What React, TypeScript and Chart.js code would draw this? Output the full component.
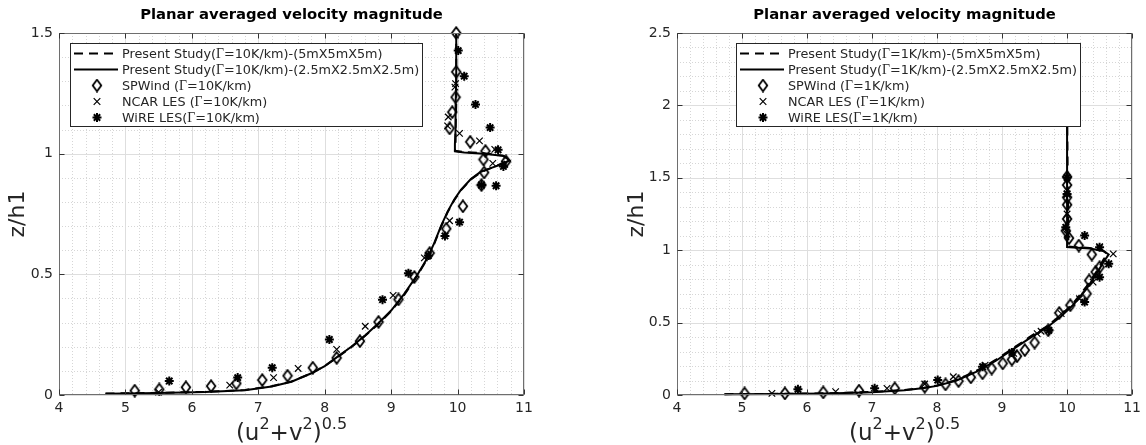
import React, { useEffect, useRef } from "react";
import { Chart, registerables } from "chart.js";

Chart.register(...registerables);

type P = [number, number];

// ---------- tick labels ----------
const xTickValues = [4, 5, 6, 7, 8, 9, 10, 11];
const xTickLabels = ["4", "5", "6", "7", "8", "9", "10", "11"];
const leftYTickValues = [0, 0.5, 1, 1.5];
const leftYTickLabels = ["0", "0.5", "1", "1.5"];
const rightYTickValues = [0, 0.5, 1, 1.5, 2, 2.5];
const rightYTickLabels = ["0", "0.5", "1", "1.5", "2", "2.5"];

const chartTitle = "Planar averaged velocity magnitude";
const yAxisTitle = "z/h1";

const leftLegendLabels = [
  "Present Study(Γ=10K/km)-(5mX5mX5m)",
  "Present Study(Γ=10K/km)-(2.5mX2.5mX2.5m)",
  "SPWind (Γ=10K/km)",
  "NCAR LES (Γ=10K/km)",
  "WiRE LES(Γ=10K/km)",
];
const rightLegendLabels = [
  "Present Study(Γ=1K/km)-(5mX5mX5m)",
  "Present Study(Γ=1K/km)-(2.5mX2.5mX2.5m)",
  "SPWind (Γ=1K/km)",
  "NCAR LES (Γ=1K/km)",
  "WiRE LES(Γ=1K/km)",
];

// ---------- left panel data (Γ=10K/km) ----------
const leftCoarse: P[] = [
  [4.7, 0.006], [5.5, 0.009], [6.2, 0.013], [6.8, 0.021], [7.2, 0.036], [7.5, 0.056],
  [7.8, 0.09], [8.0, 0.12], [8.2, 0.158], [8.4, 0.198], [8.6, 0.243], [8.8, 0.292],
  [9.0, 0.347], [9.2, 0.416], [9.4, 0.497], [9.55, 0.567], [9.65, 0.627], [9.75, 0.697],
  [9.85, 0.757], [9.95, 0.807], [10.05, 0.848], [10.2, 0.893], [10.35, 0.923], [10.5, 0.94],
  [10.65, 0.957], [10.76, 0.975], [10.68, 0.992], [10.4, 1.002], [10.1, 1.007], [9.96, 1.012],
  [9.97, 1.04], [9.97, 1.1], [9.98, 1.2], [9.98, 1.3], [9.98, 1.4], [9.98, 1.5],
];
const leftFine: P[] = [
  [4.7, 0.005], [5.5, 0.008], [6.2, 0.012], [6.8, 0.02], [7.2, 0.035], [7.5, 0.055],
  [7.8, 0.09], [8.0, 0.12], [8.2, 0.16], [8.4, 0.2], [8.6, 0.245], [8.8, 0.295],
  [9.0, 0.35], [9.2, 0.42], [9.4, 0.5], [9.55, 0.57], [9.65, 0.63], [9.75, 0.7],
  [9.85, 0.76], [9.95, 0.81], [10.05, 0.85], [10.2, 0.895], [10.35, 0.925], [10.5, 0.94],
  [10.65, 0.955], [10.78, 0.972], [10.7, 0.99], [10.4, 1.0], [10.1, 1.005], [9.95, 1.01],
  [9.96, 1.04], [9.97, 1.1], [9.97, 1.2], [9.98, 1.3], [9.98, 1.4], [9.98, 1.5],
];
const leftSPWind: P[] = [
  [5.14, 0.018], [5.51, 0.023], [5.91, 0.032], [6.29, 0.037], [6.67, 0.048], [7.06, 0.062],
  [7.44, 0.08], [7.82, 0.113], [8.18, 0.154], [8.53, 0.223], [8.81, 0.303], [9.11, 0.396],
  [9.35, 0.489], [9.58, 0.588], [9.83, 0.689], [10.08, 0.782], [10.36, 0.87], [10.4, 0.922],
  [10.39, 0.976], [10.73, 0.968], [10.42, 1.011], [10.19, 1.049], [9.88, 1.105], [9.92, 1.172],
  [9.97, 1.234], [9.98, 1.339], [9.98, 1.5],
];
const leftNCAR: P[] = [
  [5.5, 0.012], [6.57, 0.041], [7.23, 0.072], [7.6, 0.11], [8.18, 0.189], [8.61, 0.285],
  [9.03, 0.413], [9.5, 0.568], [9.88, 0.722], [10.36, 0.87], [10.53, 0.96], [10.71, 0.956],
  [10.56, 1.018], [10.33, 1.053], [10.03, 1.084], [9.86, 1.152], [9.85, 1.115], [9.96, 1.276],
  [9.97, 1.29],
];
const leftWiRE: P[] = [
  [5.66, 0.058], [6.69, 0.072], [7.21, 0.113], [8.07, 0.23], [8.87, 0.395], [9.26, 0.505],
  [9.56, 0.578], [9.81, 0.659], [10.03, 0.716], [10.36, 0.87], [10.58, 0.867], [10.69, 0.947],
  [10.61, 1.016], [10.49, 1.108], [10.27, 1.204], [10.1, 1.321], [10.01, 1.427],
];

// ---------- right panel data (Γ=1K/km) ----------
const rightCoarse: P[] = [
  [4.73, 0.006], [5.5, 0.008], [6.3, 0.012], [7.0, 0.021], [7.5, 0.035], [7.8, 0.05],
  [8.0, 0.066], [8.3, 0.104], [8.6, 0.165], [8.9, 0.242], [9.2, 0.332], [9.45, 0.408],
  [9.7, 0.478], [9.9, 0.55], [10.1, 0.637], [10.3, 0.75], [10.45, 0.85], [10.56, 0.935],
  [10.62, 0.975], [10.54, 1.0], [10.35, 1.016], [10.1, 1.022], [10.02, 1.026], [10.02, 1.1],
  [10.01, 1.5], [10.0, 2.0], [10.0, 2.3],
];
const rightFine: P[] = [
  [4.73, 0.005], [5.5, 0.007], [6.3, 0.011], [7.0, 0.019], [7.5, 0.033], [7.8, 0.048],
  [8.0, 0.063], [8.3, 0.1], [8.6, 0.16], [8.9, 0.235], [9.2, 0.325], [9.45, 0.4],
  [9.7, 0.47], [9.9, 0.54], [10.1, 0.625], [10.3, 0.735], [10.45, 0.835], [10.57, 0.925],
  [10.64, 0.97], [10.56, 0.995], [10.35, 1.012], [10.1, 1.018], [10.0, 1.022], [10.0, 1.1],
  [10.0, 1.5], [10.0, 2.0], [10.0, 2.3],
];
const rightSPWind: P[] = [
  [5.04, 0.011], [5.66, 0.011], [6.25, 0.018], [6.8, 0.03], [7.35, 0.046], [7.81, 0.057],
  [8.13, 0.073], [8.33, 0.096], [8.52, 0.122], [8.7, 0.15], [8.84, 0.183], [9.01, 0.218],
  [9.15, 0.245], [9.23, 0.268], [9.35, 0.31], [9.5, 0.362], [9.71, 0.447], [9.88, 0.567],
  [10.05, 0.62], [10.3, 0.7], [10.34, 0.791], [10.44, 0.85], [10.5, 0.883], [10.38, 0.97],
  [10.18, 1.032], [10.03, 1.083], [9.98, 1.135], [10.0, 1.216], [10.0, 1.314], [10.0, 1.365],
  [10.0, 1.45], [10.0, 1.507],
];
const rightNCAR: P[] = [
  [5.46, 0.011], [6.44, 0.023], [7.23, 0.046], [7.81, 0.076], [8.25, 0.126], [8.74, 0.206],
  [9.18, 0.287], [9.54, 0.424], [9.6, 0.44], [9.91, 0.562], [10.19, 0.665], [10.4, 0.78],
  [10.64, 0.906], [10.71, 0.975], [10.5, 1.025], [10.0, 1.11], [10.0, 1.25], [10.0, 1.39],
];
const rightWiRE: P[] = [
  [5.86, 0.039], [7.04, 0.046], [8.01, 0.103], [8.7, 0.195], [9.15, 0.294], [9.72, 0.447],
  [10.27, 0.642], [10.5, 0.814], [10.64, 0.906], [10.5, 1.02], [10.27, 1.101], [9.98, 1.158],
  [10.0, 1.388], [10.0, 1.502],
];

// ---------- drawing helpers ----------
const SANS = '"DejaVu Sans", sans-serif';
const SERIF = '"Liberation Serif", "DejaVu Serif", serif';
const TEXT = "#262626";

function makeDiamond(): HTMLCanvasElement {
  const c = document.createElement("canvas");
  c.width = 12;
  c.height = 14;
  const g = c.getContext("2d")!;
  g.strokeStyle = "#000";
  g.lineWidth = 1.8;
  g.beginPath();
  g.moveTo(6, 1.2);
  g.lineTo(10.3, 7);
  g.lineTo(6, 12.8);
  g.lineTo(1.7, 7);
  g.closePath();
  g.stroke();
  return c;
}

function drawGammaText(ctx: CanvasRenderingContext2D, s: string, x: number, y: number, size: number) {
  const parts = s.split("Γ");
  let cx = x;
  parts.forEach((p, i) => {
    ctx.font = `${size}px ${SANS}`;
    ctx.fillText(p, cx, y);
    cx += ctx.measureText(p).width;
    if (i < parts.length - 1) {
      ctx.font = `${size + 1}px ${SERIF}`;
      ctx.fillText("Γ", cx, y);
      cx += ctx.measureText("Γ").width;
    }
  });
}

type PanelCfg = {
  yMax: number;
  yTickValues: number[];
  yTickLabels: string[];
  legendLabels: string[];
  coarse: P[];
  fine: P[];
  spwind: P[];
  ncar: P[];
  wire: P[];
  yAxisWidth: number;
  padRight: number;
  legendBox: { x: number; y: number; w: number; h: number };
  yTitleX: number;
};

function makeDecor(cfg: PanelCfg, diamond: HTMLCanvasElement) {
  return {
    id: "decor",
    beforeDatasetsDraw(chart: any) {
      const { ctx, chartArea: a, scales } = chart;
      const xs = scales.x;
      const ys = scales.y;
      ctx.save();
      ctx.lineWidth = 1;
      // minor grid
      ctx.strokeStyle = "#d6d6d6";
      ctx.setLineDash([1, 2]);
      for (let i = 1; i < 35; i++) {
        if (i % 5 === 0) continue;
        const px = Math.round(xs.getPixelForValue(4 + i * 0.2)) + 0.5;
        ctx.beginPath();
        ctx.moveTo(px, a.top);
        ctx.lineTo(px, a.bottom);
        ctx.stroke();
      }
      const nY = Math.round(cfg.yMax / 0.1);
      for (let i = 1; i < nY; i++) {
        if (i % 5 === 0) continue;
        const py = Math.round(ys.getPixelForValue(i * 0.1)) + 0.5;
        ctx.beginPath();
        ctx.moveTo(a.left, py);
        ctx.lineTo(a.right, py);
        ctx.stroke();
      }
      // major grid
      ctx.setLineDash([]);
      ctx.strokeStyle = "#dedede";
      xTickValues.forEach((v) => {
        const px = Math.round(xs.getPixelForValue(v)) + 0.5;
        ctx.beginPath();
        ctx.moveTo(px, a.top);
        ctx.lineTo(px, a.bottom);
        ctx.stroke();
      });
      cfg.yTickValues.forEach((v) => {
        const py = Math.round(ys.getPixelForValue(v)) + 0.5;
        ctx.beginPath();
        ctx.moveTo(a.left, py);
        ctx.lineTo(a.right, py);
        ctx.stroke();
      });
      ctx.restore();
    },
    afterDatasetsDraw(chart: any) {
      const { ctx, chartArea: a, scales } = chart;
      const xs = scales.x;
      const ys = scales.y;
      ctx.save();
      // frame
      ctx.strokeStyle = "#6e6e6e";
      ctx.lineWidth = 1;
      const L = Math.round(a.left) + 0.5;
      const R = Math.round(a.right) - 0.5;
      const T = Math.round(a.top) + 0.5;
      const B = Math.round(a.bottom) - 0.5;
      ctx.strokeRect(L, T, R - L, B - T);
      // inward ticks
      ctx.strokeStyle = "#333";
      xTickValues.forEach((v) => {
        const px = Math.round(xs.getPixelForValue(v)) + 0.5;
        ctx.beginPath();
        ctx.moveTo(px, B);
        ctx.lineTo(px, B - 5);
        ctx.moveTo(px, T);
        ctx.lineTo(px, T + 5);
        ctx.stroke();
      });
      cfg.yTickValues.forEach((v) => {
        const py = Math.round(ys.getPixelForValue(v)) + 0.5;
        ctx.beginPath();
        ctx.moveTo(L, py);
        ctx.lineTo(L + 5, py);
        ctx.moveTo(R, py);
        ctx.lineTo(R - 5, py);
        ctx.stroke();
      });

      // legend
      const lb = cfg.legendBox;
      ctx.fillStyle = "#fff";
      ctx.fillRect(lb.x, lb.y, lb.w, lb.h);
      ctx.strokeStyle = "#262626";
      ctx.lineWidth = 1;
      ctx.strokeRect(lb.x + 0.5, lb.y + 0.5, lb.w, lb.h);
      const sx0 = lb.x + 4;
      const sx1 = lb.x + 48;
      const mx = lb.x + 27;
      const tx = lb.x + 52;
      ctx.textBaseline = "middle";
      ctx.textAlign = "left";
      cfg.legendLabels.forEach((lab, i) => {
        const ry = lb.y + 10.5 + i * 16;
        ctx.strokeStyle = "#000";
        ctx.lineWidth = 2;
        if (i === 0 || i === 1) {
          ctx.setLineDash(i === 0 ? [9, 6] : []);
          ctx.beginPath();
          ctx.moveTo(sx0, ry);
          ctx.lineTo(sx1, ry);
          ctx.stroke();
          ctx.setLineDash([]);
        } else if (i === 2) {
          ctx.drawImage(diamond, mx - diamond.width / 2, ry - diamond.height / 2);
        } else if (i === 3) {
          ctx.lineWidth = 1.2;
          const r = 3.3;
          ctx.beginPath();
          ctx.moveTo(mx - r, ry - r);
          ctx.lineTo(mx + r, ry + r);
          ctx.moveTo(mx - r, ry + r);
          ctx.lineTo(mx + r, ry - r);
          ctx.stroke();
        } else {
          ctx.lineWidth = 2;
          const r = 4.5;
          const d = r * Math.SQRT1_2;
          ctx.beginPath();
          ctx.moveTo(mx - r, ry);
          ctx.lineTo(mx + r, ry);
          ctx.moveTo(mx, ry - r);
          ctx.lineTo(mx, ry + r);
          ctx.moveTo(mx - d, ry - d);
          ctx.lineTo(mx + d, ry + d);
          ctx.moveTo(mx - d, ry + d);
          ctx.lineTo(mx + d, ry - d);
          ctx.stroke();
        }
        ctx.fillStyle = TEXT;
        drawGammaText(ctx, lab, tx, ry + 1, 12.8);
      });

      // title
      const cx = (a.left + a.right) / 2;
      ctx.fillStyle = "#000";
      ctx.font = `bold 14.8px ${SANS}`;
      ctx.textAlign = "center";
      ctx.textBaseline = "alphabetic";
      ctx.fillText(chartTitle, cx, 19);

      // x-axis title with superscripts
      const big = `23px ${SANS}`;
      const small = `16px ${SANS}`;
      const runs: [string, boolean][] = [["(u", false], ["2", true], ["+v", false], ["2", true], [")", false], ["0.5", true]];
      let total = 0;
      runs.forEach(([t, sup]) => {
        ctx.font = sup ? small : big;
        total += ctx.measureText(t).width;
      });
      let xx = cx - total / 2;
      ctx.textAlign = "left";
      ctx.fillStyle = TEXT;
      const base = 440;
      runs.forEach(([t, sup]) => {
        ctx.font = sup ? small : big;
        ctx.fillText(t, xx, sup ? base - 11 : base);
        xx += ctx.measureText(t).width;
      });

      // y-axis title
      ctx.save();
      ctx.translate(cfg.yTitleX, (a.top + a.bottom) / 2);
      ctx.rotate(-Math.PI / 2);
      ctx.font = `22px ${SANS}`;
      ctx.textAlign = "center";
      ctx.textBaseline = "middle";
      ctx.fillText(yAxisTitle, 0, 0);
      ctx.restore();

      ctx.restore();
    },
  };
}

function makeChart(canvas: HTMLCanvasElement, cfg: PanelCfg, diamond: HTMLCanvasElement) {
  const pts = (arr: P[]) => arr.map(([x, y]) => ({ x, y }));
  const tickFont = { family: "DejaVu Sans", size: 14 };
  return new Chart(canvas, {
    type: "scatter",
    data: {
      datasets: [
        {
          label: cfg.legendLabels[2],
          data: pts(cfg.spwind),
          pointStyle: diamond as any,
          pointRadius: 5,
          borderColor: "#000",
          backgroundColor: "rgba(0,0,0,0)",
          clip: false as any,
        },
        {
          label: cfg.legendLabels[3],
          data: pts(cfg.ncar),
          pointStyle: "crossRot",
          pointRadius: 4.6,
          borderWidth: 1.2,
          borderColor: "#000",
          backgroundColor: "rgba(0,0,0,0)",
          clip: false as any,
        },
        {
          label: cfg.legendLabels[4],
          data: pts(cfg.wire),
          pointStyle: "star",
          pointRadius: 4.5,
          borderWidth: 2,
          borderColor: "#000",
          backgroundColor: "rgba(0,0,0,0)",
          clip: false as any,
        },
        {
          label: cfg.legendLabels[1],
          data: pts(cfg.fine),
          showLine: true,
          borderColor: "#000",
          borderWidth: 2,
          pointRadius: 0,
          pointHitRadius: 0,
          fill: false,
          clip: false as any,
        },
        {
          label: cfg.legendLabels[0],
          data: pts(cfg.coarse),
          showLine: true,
          borderColor: "#000",
          borderWidth: 2,
          borderDash: [9, 6],
          pointRadius: 0,
          pointHitRadius: 0,
          fill: false,
          clip: false as any,
        },
      ],
    },
    options: {
      animation: false,
      responsive: false,
      devicePixelRatio: 1,
      events: [],
      layout: { padding: { left: 0, right: cfg.padRight, top: 33, bottom: 0 } },
      plugins: {
        legend: { display: false },
        tooltip: { enabled: false },
        title: { display: false },
      },
      scales: {
        x: {
          type: "linear",
          min: 4,
          max: 11,
          grid: { display: false, drawTicks: false },
          border: { display: false },
          afterBuildTicks: (s: any) => {
            s.ticks = xTickValues.map((v) => ({ value: v }));
          },
          afterFit: (s: any) => {
            s.height = 50;
          },
          ticks: {
            autoSkip: false,
            maxRotation: 0,
            padding: 5,
            color: TEXT,
            font: tickFont,
            callback: (_v: any, i: number) => xTickLabels[i],
          },
        },
        y: {
          type: "linear",
          min: 0,
          max: cfg.yMax,
          grid: { display: false, drawTicks: false },
          border: { display: false },
          afterBuildTicks: (s: any) => {
            s.ticks = cfg.yTickValues.map((v) => ({ value: v }));
          },
          afterFit: (s: any) => {
            s.width = cfg.yAxisWidth;
          },
          ticks: {
            autoSkip: false,
            padding: 6,
            color: TEXT,
            font: tickFont,
            callback: (_v: any, i: number) => cfg.yTickLabels[i],
          },
        },
      },
    } as any,
    plugins: [makeDecor(cfg, diamond)],
  });
}

const leftCfg: PanelCfg = {
  yMax: 1.5,
  yTickValues: leftYTickValues,
  yTickLabels: leftYTickLabels,
  legendLabels: leftLegendLabels,
  coarse: leftCoarse,
  fine: leftFine,
  spwind: leftSPWind,
  ncar: leftNCAR,
  wire: leftWiRE,
  yAxisWidth: 59,
  padRight: 49,
  legendBox: { x: 70, y: 43, w: 352, h: 83 },
  yTitleX: 18,
};

const rightCfg: PanelCfg = {
  yMax: 2.5,
  yTickValues: rightYTickValues,
  yTickLabels: rightYTickLabels,
  legendLabels: rightLegendLabels,
  coarse: rightCoarse,
  fine: rightFine,
  spwind: rightSPWind,
  ncar: rightNCAR,
  wire: rightWiRE,
  yAxisWidth: 104,
  padRight: 11,
  legendBox: { x: 163, y: 43, w: 344, h: 83 },
  yTitleX: 64,
};

export default function App() {
  const leftRef = useRef<HTMLCanvasElement>(null);
  const rightRef = useRef<HTMLCanvasElement>(null);
  useEffect(() => {
    const diamond = makeDiamond();
    const c1 = makeChart(leftRef.current!, leftCfg, diamond);
    const c2 = makeChart(rightRef.current!, rightCfg, diamond);
    return () => {
      c1.destroy();
      c2.destroy();
    };
  }, []);
  return (
    <div style={{ position: "absolute", left: 0, top: 0, width: 1146, height: 445, background: "#fff" }}>
      <canvas
        ref={leftRef}
        width={573}
        height={445}
        style={{ position: "absolute", left: 0, top: 0, width: 573, height: 445 }}
      />
      <canvas
        ref={rightRef}
        width={573}
        height={445}
        style={{ position: "absolute", left: 573, top: 0, width: 573, height: 445 }}
      />
    </div>
  );
}
